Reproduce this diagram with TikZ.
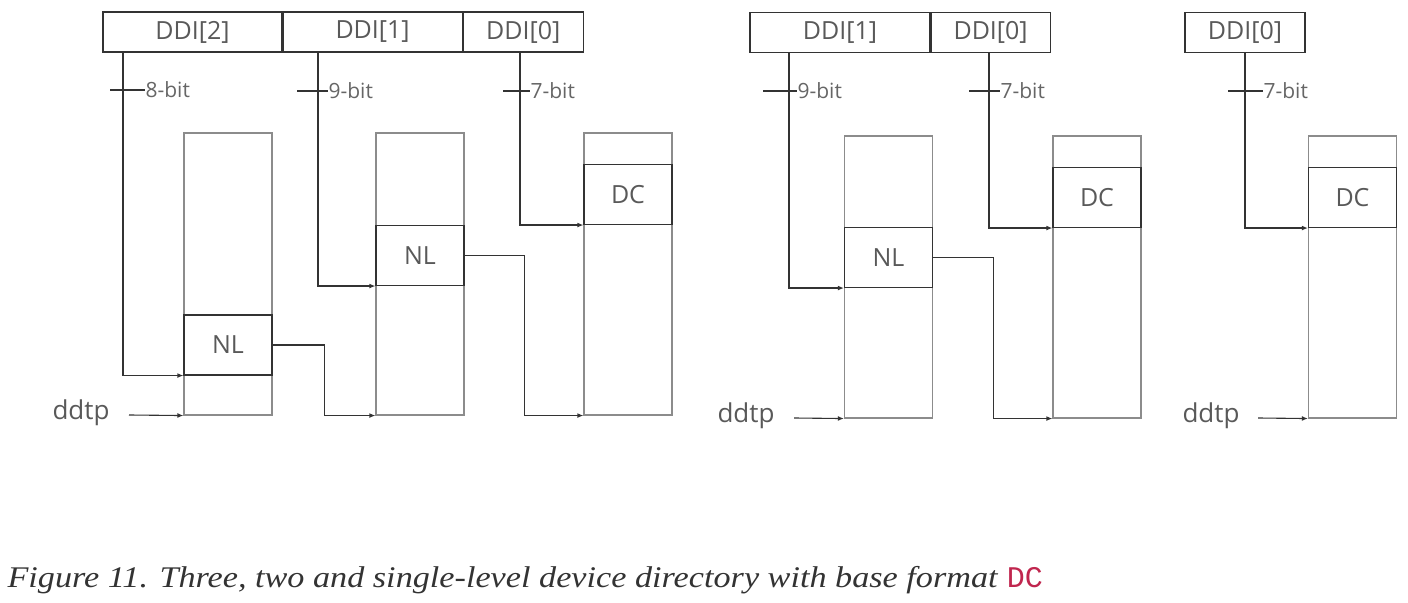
\documentclass[tikz,border=0pt]{standalone}
\usepackage{fontspec}
\setmainfont{Liberation Serif}
\setmonofont{Liberation Mono}
\newfontfamily\diafont{Open Sans}
\newfontfamily\capfont{Liberation Serif}[FakeStretch=1.14]
\usetikzlibrary{arrows.meta,positioning}
\definecolor{codered}{HTML}{C0264E}

\begin{document}
\begin{tikzpicture}[x=0.5pt,y=-0.5pt,line width=0.55pt,draw=black!80,
  >={Latex[length=3pt,width=2.4pt]},
  reg/.style={draw=black!80,minimum height=20pt,inner sep=0pt,
    font=\diafont\fontsize{12.5}{14}\selectfont,text=black!65},
  cell/.style={draw=black!80,minimum width=44pt,minimum height=30pt,inner sep=0pt,
    font=\diafont\fontsize{12.5}{14}\selectfont,text=black!65},
  col/.style={draw=black!45,minimum width=44pt,minimum height=141pt,inner sep=0pt},
  bits/.style={anchor=west,inner sep=0pt,font=\diafont\fontsize{10.5}{12}\selectfont,text=black!60},
  lbl/.style={inner sep=0pt,font=\diafont\fontsize{13}{15}\selectfont,text=black!65}]
  \useasboundingbox (0,0) rectangle (1408,603);

  % three-level directory
  \node[reg,minimum width=89.5pt] (ra2) at (192.5,32) {DDI[2]};
  \node[reg,minimum width=89.5pt,right=0pt of ra2] (ra1) {DDI[1]};
  \node[reg,minimum width=60pt,right=0pt of ra1] (ra0) {DDI[0]};
  \coordinate (va2) at (123,52);
  \coordinate (va1) at (318,52);
  \coordinate (va0) at (520,52);
  \draw (110,90) -- (145,90) node[bits] {8-bit};
  \draw (297,91) -- (328,91) node[bits] {9-bit};
  \draw (503,91) -- (530,91) node[bits] {7-bit};
  \node[col] (cola) at (228,274) {};
  \node[col] (colb) at (420,274) {};
  \node[col] (colc) at (628,274) {};
  \node[cell] (nla) at (228,345) {NL};
  \node[cell] (nlb) at (420,255.5) {NL};
  \node[cell] (dcc) at (628,194.5) {DC};
  \node[lbl] (dda) at (81,413) {ddtp};
  \coordinate (sa) at (129,415);
  \draw[->] (sa) -- (cola.south west);
  \draw[->] (va2) |- (nla.south west);
  \draw[->] (va1) |- (nlb.south west);
  \draw[->] (va0) |- (dcc.south west);
  \draw[->] (nla.east) -- ++(52,0) |- (colb.south west);
  \draw[->] (nlb.east) -- ++(60,0) |- (colc.south west);

  % two-level directory
  \node[reg,minimum width=90pt] (rb1) at (840,32.5) {DDI[1]};
  \node[reg,minimum width=59.5pt,right=0pt of rb1] (rb0) {DDI[0]};
  \coordinate (vb1) at (789,53);
  \coordinate (vb0) at (989,53);
  \draw (763,91) -- (797,91) node[bits] {9-bit};
  \draw (969,91) -- (1000,91) node[bits] {7-bit};
  \node[col] (cold) at (888.5,277) {};
  \node[col] (cole) at (1097,277) {};
  \node[cell] (nld) at (888.5,257.5) {NL};
  \node[cell] (dce) at (1097,197.5) {DC};
  \node[lbl] (ddb) at (746,416) {ddtp};
  \coordinate (sb) at (794,418);
  \draw[->] (sb) -- (cold.south west);
  \draw[->] (vb1) |- (nld.south west);
  \draw[->] (vb0) |- (dce.south west);
  \draw[->] (nld.east) -- ++(60,0) |- (cole.south west);

  % single-level directory
  \node[reg,minimum width=60pt] (rc0) at (1245,32.5) {DDI[0]};
  \coordinate (vc0) at (1245,53);
  \draw (1228,91) -- (1263,91) node[bits] {7-bit};
  \node[col] (colf) at (1352.5,277) {};
  \node[cell] (dcf) at (1352.5,197.5) {DC};
  \node[lbl] (ddc) at (1211,416) {ddtp};
  \coordinate (sc) at (1258,418);
  \draw[->] (sc) -- (colf.south west);
  \draw[->] (vc0) |- (dcf.south west);

  \node[anchor=base west,inner sep=0pt,font=\capfont\itshape\fontsize{15}{18}\selectfont,text=black!80] (cap) at (7,588)
    {Figure 11. Three, two and single-level device directory with base format \textup{\texttt{\color{codered}DC}}};
\end{tikzpicture}
\end{document}
